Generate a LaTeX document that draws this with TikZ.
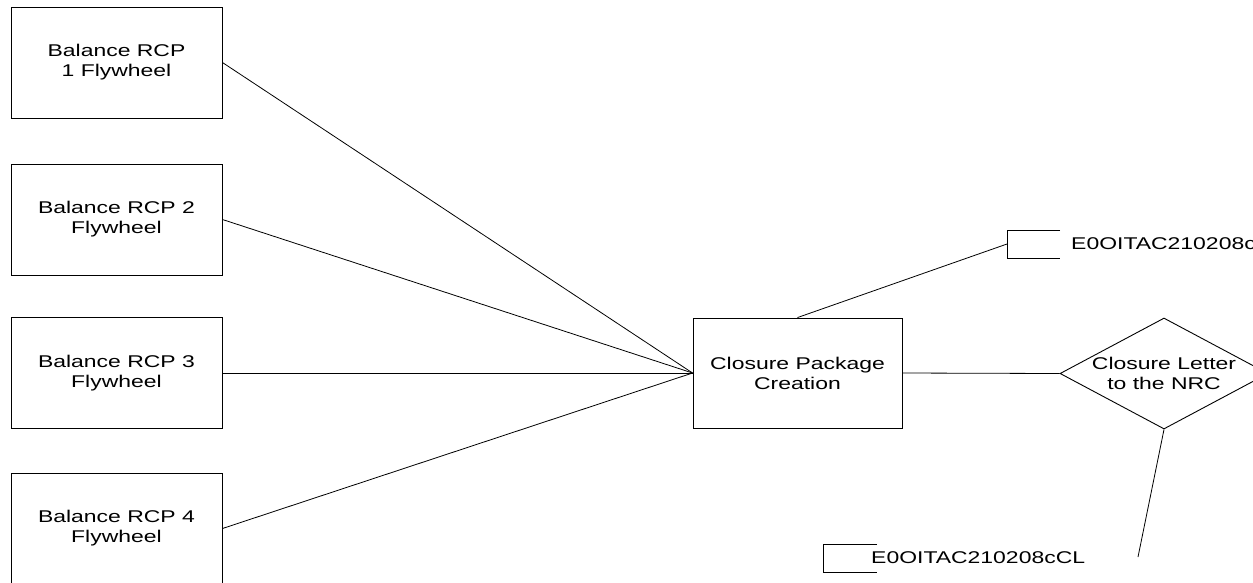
\documentclass[tikz,border=0pt]{standalone}
\usepackage{fontspec}
\setmainfont[FakeStretch=1.35]{Liberation Sans}
\usetikzlibrary{shapes.geometric}
\begin{document}
\begin{tikzpicture}[x=1pt,y=-1pt,
  every node/.style={font=\fontsize{17}{20}\selectfont, align=center},
  procbox/.style={draw, line width=0.9pt, minimum width=211pt, minimum height=111pt, inner sep=0pt},
  conn/.style={line width=0.8pt},
  lbl/.style={anchor=west, inner sep=0pt}]
\useasboundingbox (0,0) rectangle (1253,582);
\clip (0,0) rectangle (1253,582);
\node[procbox] (b1) at (116.5,62.5) {Balance RCP\\1 Flywheel};
\node[procbox] (b2) at (116.5,219.5) {Balance RCP 2\\Flywheel};
\node[procbox] (b3) at (116.5,373) {Balance RCP 3\\Flywheel};
\node[procbox] (b4) at (116.5,528.5) {Balance RCP 4\\Flywheel};
\node[procbox, minimum width=209pt, minimum height=110pt] (cp) at (797.5,373) {Closure Package\\Creation};
\node[diamond, draw, line width=0.9pt, minimum width=208pt, minimum height=111pt, inner sep=0pt] (dl) at (1164,373.5) {};
\node (dlt) at (dl.center) {Closure Letter\\to the NRC};
% document brackets
\draw[line width=0.8pt] (1060,230) -| (1007,258) -- (1060,258);
\coordinate (tb) at (1007,244);
\node[lbl] (tbt) at (1071,244) {E0OITAC210208c};
\draw[line width=0.8pt] (877,544) -| (823,572) -- (877,572);
\coordinate (bb) at (823,558);
\node[lbl] (bbt) at (871,558) {E0OITAC210208cCL};
\coordinate (fe) at (1138,557);
% connectors
\draw[conn] (b1.east) -- (cp.west);
\draw[conn] (b2.east) -- (cp.west);
\draw[conn] (b3.east) -- (cp.west);
\draw[conn] (b4.east) -- (cp.west);
\draw[conn] (cp.north) -- (tb);
\draw[conn] (cp.east) -- (dl.west);
\draw[conn] (dl.south) -- (fe);
\end{tikzpicture}
\end{document}
